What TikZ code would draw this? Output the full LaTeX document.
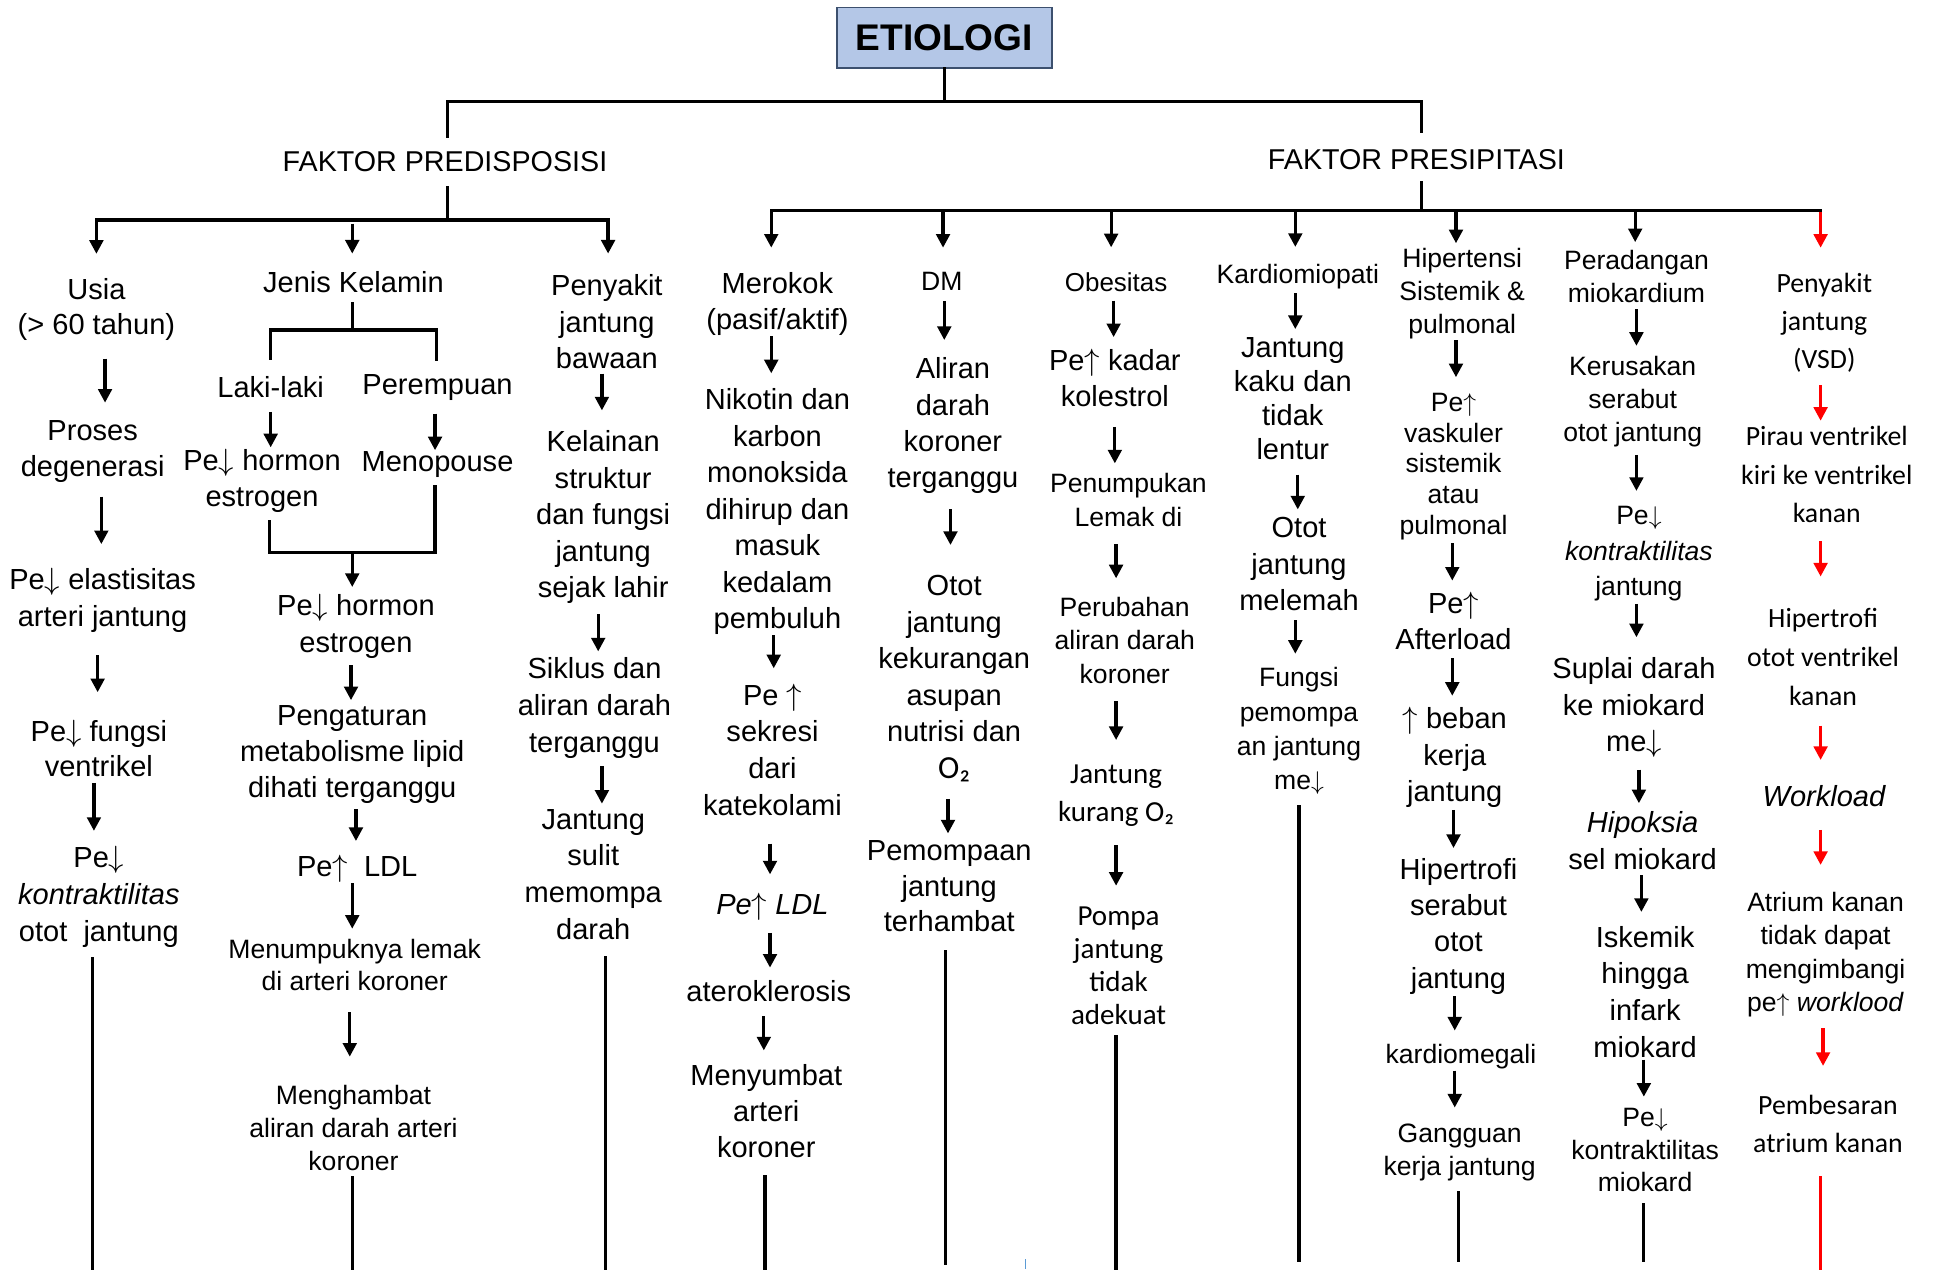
\documentclass[tikz,border=0pt]{standalone}
\usepackage{fontspec}
\setmainfont{Liberation Sans}
\newfontfamily\calfont{Carlito}
\usetikzlibrary{arrows.meta,calc}
\definecolor{etfill}{RGB}{180,199,231}
\definecolor{etborder}{RGB}{60,80,110}
\definecolor{tickblue}{RGB}{91,155,213}
\newcommand\dn{\ensuremath{\downarrow}}
\newcommand\up{\ensuremath{\uparrow}}
\newcommand\dar[6][]{\draw[ar,#1,shorten <=#5pt,shorten >=#6pt] ($(#2.south)+(#4,0)$) -- ($(#2.south |- #3.north)+(#4,0)$);}
\begin{document}
\begin{tikzpicture}[x=1pt,y=-1pt,
  T/.style 2 args={font=\fontsize{#1}{#2}\selectfont, align=center, inner sep=0pt},
  C/.style 2 args={font=\calfont\fontsize{#1}{#2}\selectfont, align=center, inner sep=0pt},
  ln/.style={line width=2.6pt, line cap=rect},
  ar/.style={line width=2.6pt, -{Triangle[width=11pt,length=11pt]}}]
\useasboundingbox (0,0) rectangle (1568,1027);
\fill[white] (0,0) rectangle (1568,1027);

% ---------- top ----------
\node[draw=etborder, fill=etfill, line width=1.2pt, minimum width=174pt, minimum height=49pt, inner sep=0pt, font=\bfseries\fontsize{30}{36}\selectfont] (et) at (764,30.5) {ETIOLOGI};
\node[T={23.2}{28}] (fp) at (360,131) {FAKTOR PREDISPOSISI};
\node[T={23.2}{28}] (fs) at (1146,129) {FAKTOR PRESIPITASI};
\coordinate (t0) at (764,82);
\coordinate (tl) at (362,82);
\coordinate (tr) at (1150,82);
\draw[ln] (et.south) -- (t0);
\draw[ln] (tl) -- (tr);
\draw[ln, shorten >=12pt] (tl) -- (tl |- fp.north);
\draw[ln, shorten >=14pt] (tr) -- (tr |- fs.north);

% ---------- predisposisi bus ----------
\coordinate (pb) at (362,178);
\coordinate (pL) at (78,178);
\coordinate (pM) at (285,178);
\coordinate (pR) at (492,178);
\draw[ln, shorten <=12.5pt] (fp.south -| pb) -- (pb);
\draw[ln] (pL) -- (pR);

% ---------- presipitasi bus ----------
\coordinate (sb) at (1150,170);
\coordinate (s1) at (624,170);
\coordinate (s2) at (763,170);
\coordinate (s3) at (899,170);
\coordinate (s4) at (1048,170);
\coordinate (s5) at (1178,170);
\coordinate (s6) at (1323,170);
\coordinate (s7) at (1473,170);
\draw[ln, shorten <=10.5pt] (fs.south -| sb) -- (sb);
\draw[ln] (s1) -- (s7);

% ---------- column 1 ----------
\node[T={23.5}{28}] (usia) at (78,250.5) {Usia\\(> 60 tahun)};
\node[T={23.5}{29}] (proses) at (75,365) {Proses\\degenerasi};
\node[T={23.5}{30}] (elas) at (83,485.5) {Pe\dn\ elastisitas\\arteri jantung};
\node[T={23.5}{29}] (fungsi) at (80,605.5) {Pe\dn\ fungsi\\ventrikel};
\node[T={23.5}{30}] (kontr) at (80,725.5) {Pe\dn\\\textit{kontraktilitas}\\otot\ \ jantung};
\draw[ar, shorten >=20pt] (pL) -- (pL |- usia.north);
\dar{usia}{proses}{7}{14.5}{14}
\dar{proses}{elas}{7}{11.5}{19}
\dar{elas}{fungsi}{-4}{18.5}{22}
\dar{fungsi}{kontr}{-4}{4.5}{12}
\coordinate (c1e) at (75,1027);
\draw[ln, shorten <=8.5pt] (kontr.south -| c1e) -- (c1e);

% ---------- column 2 ----------
\node[T={23.5}{29}] (jk) at (286,228) {Jenis Kelamin};
\node[T={23.5}{29}] (laki) at (219,313) {Laki-laki};
\node[T={23.5}{29}] (peremp) at (354,313.5) {Perempuan};
\node[T={23.5}{29}] (pe1) at (212,389) {Pe\dn\ hormon\\estrogen};
\node[T={23.5}{29}] (meno) at (354,375.5) {Menopouse};
\node[T={23.5}{30}] (pe2) at (288,506.5) {Pe\dn\ hormon\\estrogen};
\node[T={23.5}{29}] (peng) at (285,610.5) {Pengaturan\\metabolisme lipid\\dihati terganggu};
\node[T={23.5}{29}] (ldl1) at (289,703) {Pe\up\ \ LDL};
\node[T={21.5}{26}] (menum) at (287,780.5) {Menumpuknya lemak\\di arteri koroner};
\node[T={21.5}{26.5}] (mengh) at (286,912.5) {Menghambat\\aliran darah arteri\\koroner};
\draw[ar, shorten <=3pt, shorten >=14pt] (pM) -- (pM |- jk.north);
\coordinate (jkm) at (285,267);
\coordinate (jkl) at (219,267);
\coordinate (jkr) at (353,267);
\draw[ln, shorten <=8.5pt] (jk.south -| jkm) -- (jkm);
\draw[ln] (jkl) -- (jkr);
\draw[ln, shorten >=14pt] (jkl) -- (jkl |- laki.north);
\draw[ln, shorten >=12pt] (jkr) -- (jkr |- peremp.north);
\dar{laki}{pe1}{0}{11.5}{1.3}
\dar{peremp}{meno}{-2}{10.5}{0.5}
\coordinate (mL) at (218,447);
\coordinate (mR) at (352,447);
\coordinate (mM) at (285,447);
\draw[ln, line join=miter, shorten <=7.5pt, shorten >=7.5pt] (pe1.south -| mL) -- (mL) -- (mR) -- (meno.south -| mR);
\draw[ar, shorten >=5.3pt] (mM) -- (mM |- pe2.north);
\dar{pe2}{peng}{-4}{5.5}{4.3}
\dar{peng}{ldl1}{3}{4.5}{11.3}
\dar{ldl1}{menum}{-4}{0.5}{8}
\dar{menum}{mengh}{-4}{17.3}{23}
\coordinate (c2e) at (285,1027);
\draw[ln, shorten <=5.3pt] (mengh.south -| c2e) -- (c2e);

% ---------- column 3 ----------
\node[T={23.5}{29.5}] (pjb) at (491,260.5) {Penyakit\\jantung\\bawaan};
\node[T={23.5}{29.5}] (kel) at (488,418.5) {Kelainan\\struktur\\dan fungsi\\jantung\\sejak lahir};
\node[T={23.5}{30}] (siklus) at (481,572.5) {Siklus dan\\aliran darah\\terganggu};
\node[T={23.5}{29.7}] (jsulit) at (480,707.5) {Jantung\\sulit\\memompa\\darah};
\draw[ar, shorten >=17pt] (pR) -- (pR |- pjb.north);
\dar{pjb}{kel}{-4}{3.5}{16.3}
\dar{kel}{siklus}{-4}{8.5}{4.3}
\dar{siklus}{jsulit}{6}{6.5}{4.3}
\coordinate (c3e) at (490,1027);
\draw[ln, shorten <=14.5pt] (jsulit.south -| c3e) -- (c3e);

% ---------- column 4 ----------
\node[T={23.5}{29}] (mer) at (629,246) {Merokok\\(pasif/aktif)};
\node[T={23.5}{29.5}] (nik) at (629,414) {Nikotin dan\\karbon\\monoksida\\dihirup dan\\masuk\\kedalam\\pembuluh};
\node[T={23.5}{29.7}] (sek) at (625,606.5) {Pe \up\\sekresi\\dari\\katekolami};
\node[T={23.5}{29}] (ldl2) at (625,734) {\textit{Pe\up\ LDL}};
\node[T={23.5}{29}] (ater) at (622,802) {ateroklerosis};
\node[T={23.5}{29}] (meny) at (620,899) {Menyumbat\\arteri\\koroner};
\draw[ar, shorten >=20pt] (s1) -- (s1 |- mer.north);
\dar{mer}{nik}{-5}{0.5}{12.3}
\dar{nik}{sek}{-3}{0.5}{12.3}
\dar{sek}{ldl2}{-2}{22.5}{15.3}
\dar{ldl2}{ater}{-2}{9.5}{10.3}
\dar{ater}{meny}{-4}{11.5}{11.3}
\coordinate (c4e) at (619,1027);
\draw[ln, shorten <=15.5pt] (meny.south -| c4e) -- (c4e);

% ---------- column 5 ----------
\node[T={21.5}{26}] (dm) at (762,228) {DM};
\node[T={23.5}{29.3}] (alir) at (771,344.5) {Aliran\\darah\\koroner\\terganggu};
\node[T={23.5}{29.6}] (otot5) at (772,549) {Otot\\jantung\\kekurangan\\asupan\\nutrisi dan\\{\calfont\fontsize{26}{29.6}\selectfont O₂}};
\node[T={23.5}{29}] (pemom) at (768,717) {Pemompaan\\jantung\\terhambat};
\draw[ar, shorten >=20pt] (s2) -- (s2 |- dm.north);
\dar{dm}{alir}{2}{8.3}{14.3}
\dar{alir}{otot5}{-2}{12.5}{24.3}
\dar{otot5}{pemom}{-5}{13.5}{5.3}
\coordinate (c5e) at (765,1022);
\draw[ln, shorten <=15.5pt] (pemom.south -| c5e) -- (c5e);
\draw[line width=1pt, tickblue] (830,1019) -- (830,1027);

% ---------- column 6 ----------
\node[T={21}{26}] (obes) at (903,228) {Obesitas};
\node[T={23.5}{29}] (kol) at (902,305.5) {Pe\up\ kadar\\kolestrol};
\node[T={21.5}{27}] (penum) at (913,404.5) {Penumpukan\\Lemak di};
\node[T={21.5}{27}] (perub) at (910,518) {Perubahan\\aliran darah\\koroner};
\node[C={23.5}{31}] (jk2) at (903,643.5) {Jantung\\kurang O₂};
\node[C={23.5}{26.7}] (pompa) at (905,781) {Pompa\\jantung\\tidak\\adekuat};
\draw[ar, shorten >=20pt] (s3) -- (s3 |- obes.north);
\dar{obes}{kol}{-2}{7.3}{9.3}
\dar{kol}{penum}{0}{16.5}{8}
\dar{penum}{perub}{-10}{14.3}{15}
\dar{perub}{jk2}{-7}{14.3}{19.5}
\dar{jk2}{pompa}{0}{15}{16.5}
\coordinate (c6e) at (903,1027);
\draw[ln, shorten <=10pt] (pompa.south -| c6e) -- (c6e);

% ---------- column 7 ----------
\node[T={21.5}{27}] (kard) at (1050,224) {Kardiomiopati};
\node[T={23.5}{27.7}] (jkaku) at (1046,322.5) {Jantung\\kaku dan\\tidak\\lentur};
\node[T={23.5}{29.5}] (otot7) at (1051,456.5) {Otot\\jantung\\melemah};
\node[T={21.5}{27.7}] (fung) at (1051,591.5) {Fungsi\\pemompa\\an jantung\\me\dn};
\draw[ar, shorten >=14pt] (s4) -- (s4 |- kard.north);
\dar{kard}{jkaku}{-2}{3}{6.3}
\dar{jkaku}{otot7}{4}{11.5}{6.3}
\dar{otot7}{fung}{-3}{7.5}{11}
\coordinate (c7e) at (1051,1020);
\draw[ln, shorten <=9.3pt] (fung.south -| c7e) -- (c7e);

% ---------- column 8 ----------
\node[T={21.5}{26.5}] (hip) at (1183,237.5) {Hipertensi\\Sistemik \&\\pulmonal};
\node[T={21.5}{24.75}] (vask) at (1176,377.5) {Pe\up\\vaskuler\\sistemik\\atau\\pulmonal};
\node[T={23.5}{29}] (after) at (1176,502.5) {Pe\up\\Afterload};
\node[T={23.5}{29.5}] (beban) at (1177,613) {\up\ beban\\kerja\\jantung};
\node[T={23.5}{29.3}] (hipt) at (1180,749.5) {Hipertrofi\\serabut\\otot\\jantung};
\node[T={21.5}{27}] (kmeg) at (1182,855) {kardiomegali};
\node[T={21.5}{27}] (gang) at (1181,932.5) {Gangguan\\kerja jantung};
\draw[ar, shorten >=4pt] (s5) -- (s5 |- hip.north);
\dar{hip}{vask}{-5}{1}{13}
\dar{vask}{after}{-1}{2.8}{9.3}
\dar{after}{beban}{-1}{6.5}{9.3}
\dar{beban}{hipt}{-1}{1.5}{8.3}
\dar{hipt}{kmeg}{-3}{1.5}{11}
\dar{kmeg}{gang}{-5}{1}{13}
\coordinate (c8e) at (1180,1020);
\draw[ln, shorten <=8.8pt] (gang.south -| c8e) -- (c8e);

% ---------- column 9 ----------
\node[T={21.5}{27}] (per) at (1324,223.5) {Peradangan\\miokardium};
\node[T={21.5}{27}] (kerus) at (1321,325) {Kerusakan\\serabut\\otot jantung};
\node[T={21.5}{29}] (kontr9) at (1326,448) {Pe\dn\\\textit{kontraktilitas}\\jantung};
\node[T={23.5}{29.5}] (supl) at (1322,572.5) {Suplai darah\\ke miokard\\me\dn};
\node[T={23.5}{30}] (hipok) at (1329,680) {\textit{Hipoksia}\\sel miokard};
\node[T={23.5}{29.7}] (isk) at (1331,802.5) {Iskemik\\hingga\\infark\\miokard};
\node[T={21.5}{26.5}] (kk) at (1331,930.5) {Pe\dn\\kontraktilitas\\miokard};
\draw[ar, shorten >=6pt] (s6) -- (s6 |- per.north);
\dar{per}{kerus}{0}{5.3}{8}
\dar{kerus}{kontr9}{3}{5.8}{12}
\dar{kontr9}{supl}{-2}{1.8}{16.3}
\dar{supl}{hipok}{4}{9.5}{6.3}
\dar{hipok}{isk}{-1}{4.5}{11.3}
\dar{isk}{kk}{-1}{1.5}{9}
\coordinate (c9e) at (1330,1020);
\draw[ln, shorten <=10.3pt] (kk.south -| c9e) -- (c9e);

% ---------- column 10 ----------
\node[C={22.5}{31}] (vsd) at (1476,261) {Penyakit\\jantung\\(VSD)};
\node[C={22.5}{31}] (pirau) at (1478,384) {Pirau ventrikel\\kiri ke ventrikel\\kanan};
\node[C={22.5}{31.5}] (hipt10) at (1475,531.5) {Hipertrofi\\otot ventrikel\\kanan};
\node[T={23.5}{29}] (work) at (1476,644) {\textit{Workload}};
\node[T={21.5}{27}] (atr) at (1477,772.5) {Atrium kanan\\tidak dapat\\mengimbangi\\pe\up\ \textit{worklood}};
\node[C={22.5}{31}] (pemb) at (1479,909.5) {Pembesaran\\atrium kanan};
\draw[ar, red, shorten <=1.5pt, shorten >=20pt] (s7) -- (s7 |- vsd.north);
\dar[red]{vsd}{pirau}{-3}{10}{4.5}
\dar[red]{pirau}{hipt10}{-5}{15}{25.5}
\dar[red]{hipt10}{work}{-2}{16}{20.3}
\dar[red]{work}{atr}{-3}{18.5}{22}
\dar[red]{atr}{pemb}{-2}{8.8}{23.5}
\coordinate (c10e) at (1473,1027);
\draw[ln, red, shorten <=20pt] (pemb.south -| c10e) -- (c10e);
\end{tikzpicture}
\end{document}
